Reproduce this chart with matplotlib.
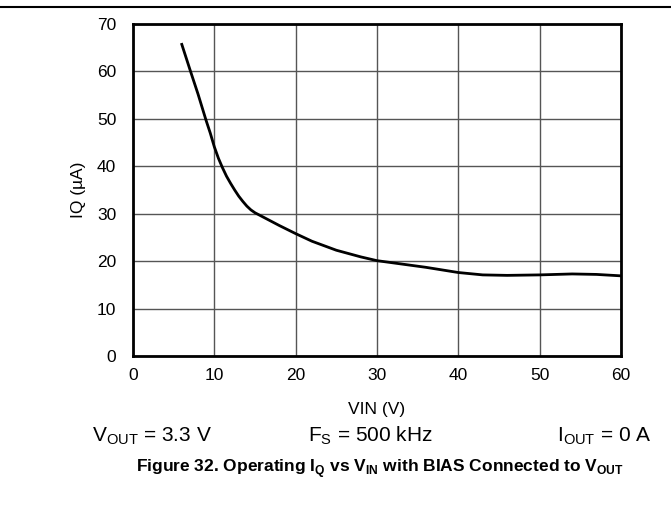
import matplotlib
matplotlib.use("Agg")
import matplotlib.pyplot as plt
from matplotlib.lines import Line2D

plt.rcParams["font.family"] = ["Liberation Sans", "DejaVu Sans"]
plt.rcParams["mathtext.fontset"] = "custom"
plt.rcParams["mathtext.rm"] = "Liberation Sans"
plt.rcParams["mathtext.bf"] = "Liberation Sans:bold"

vin = [6, 7, 8, 9, 9.5, 10, 10.5, 11, 11.5, 12, 12.5, 13, 13.5, 14, 14.5, 15,
       16, 17, 18, 20, 22, 25, 28, 30, 33, 36, 40, 43, 46, 50, 54, 57, 60]
iq = [65.7, 60.4, 55.2, 49.6, 47.0, 44.1, 41.7, 39.7, 37.9, 36.4, 35.0, 33.7,
      32.6, 31.6, 30.8, 30.2, 29.3, 28.4, 27.5, 25.8, 24.2, 22.3, 20.9, 20.1,
      19.4, 18.7, 17.6, 17.1, 17.0, 17.1, 17.3, 17.2, 16.9]
xticks = [0, 10, 20, 30, 40, 50, 60]
yticks = [0, 10, 20, 30, 40, 50, 60, 70]

W, H = 671, 527
fig = plt.figure(figsize=(W / 100, H / 100), dpi=100)
ax = fig.add_axes([133 / W, 1 - 356 / H, (621 - 133) / W, (356 - 24) / H])

ax.plot(vin, iq, color="black", linewidth=2)
ax.set_xlim(0, 60)
ax.set_ylim(0, 70)
ax.set_xticks(xticks)
ax.set_yticks(yticks)
ax.grid(True, color="#555555", linewidth=1)
ax.set_axisbelow(True)
ax.tick_params(length=0, labelsize=12.5)
ax.tick_params(axis="x", pad=9)
ax.tick_params(axis="y", pad=12)
for s in ax.spines.values():
    s.set_linewidth(2)
    s.set_color("black")

ax.set_xlabel("VIN (V)", fontsize=12.5)
ax.xaxis.set_label_coords(0.5, -0.138)
ax.set_ylabel("IQ (µA)", fontsize=12.5)
ax.yaxis.set_label_coords(-0.096, 0.5)

fig.text(92 / W, 1 - 436 / H, r"V$_{\mathregular{OUT}}$ = 3.3 V", fontsize=15, va="center")
fig.text(308 / W, 1 - 436 / H, r"F$_{\mathregular{S}}$ = 500 kHz", fontsize=15, va="center")
fig.text(557 / W, 1 - 436 / H, r"I$_{\mathregular{OUT}}$ = 0 A", fontsize=15, va="center")
fig.text(380 / W, 1 - 469 / H,
         r"Figure 32. Operating I$_{\mathbf{Q}}$ vs V$_{\mathbf{IN}}$ with BIAS Connected to V$_{\mathbf{OUT}}$",
         fontsize=12.5, fontweight="bold", ha="center", va="center")

fig.add_artist(Line2D([0, 1], [1 - 7 / H, 1 - 7 / H], color="black", linewidth=1.5))

fig.savefig("out.png", dpi=100)
